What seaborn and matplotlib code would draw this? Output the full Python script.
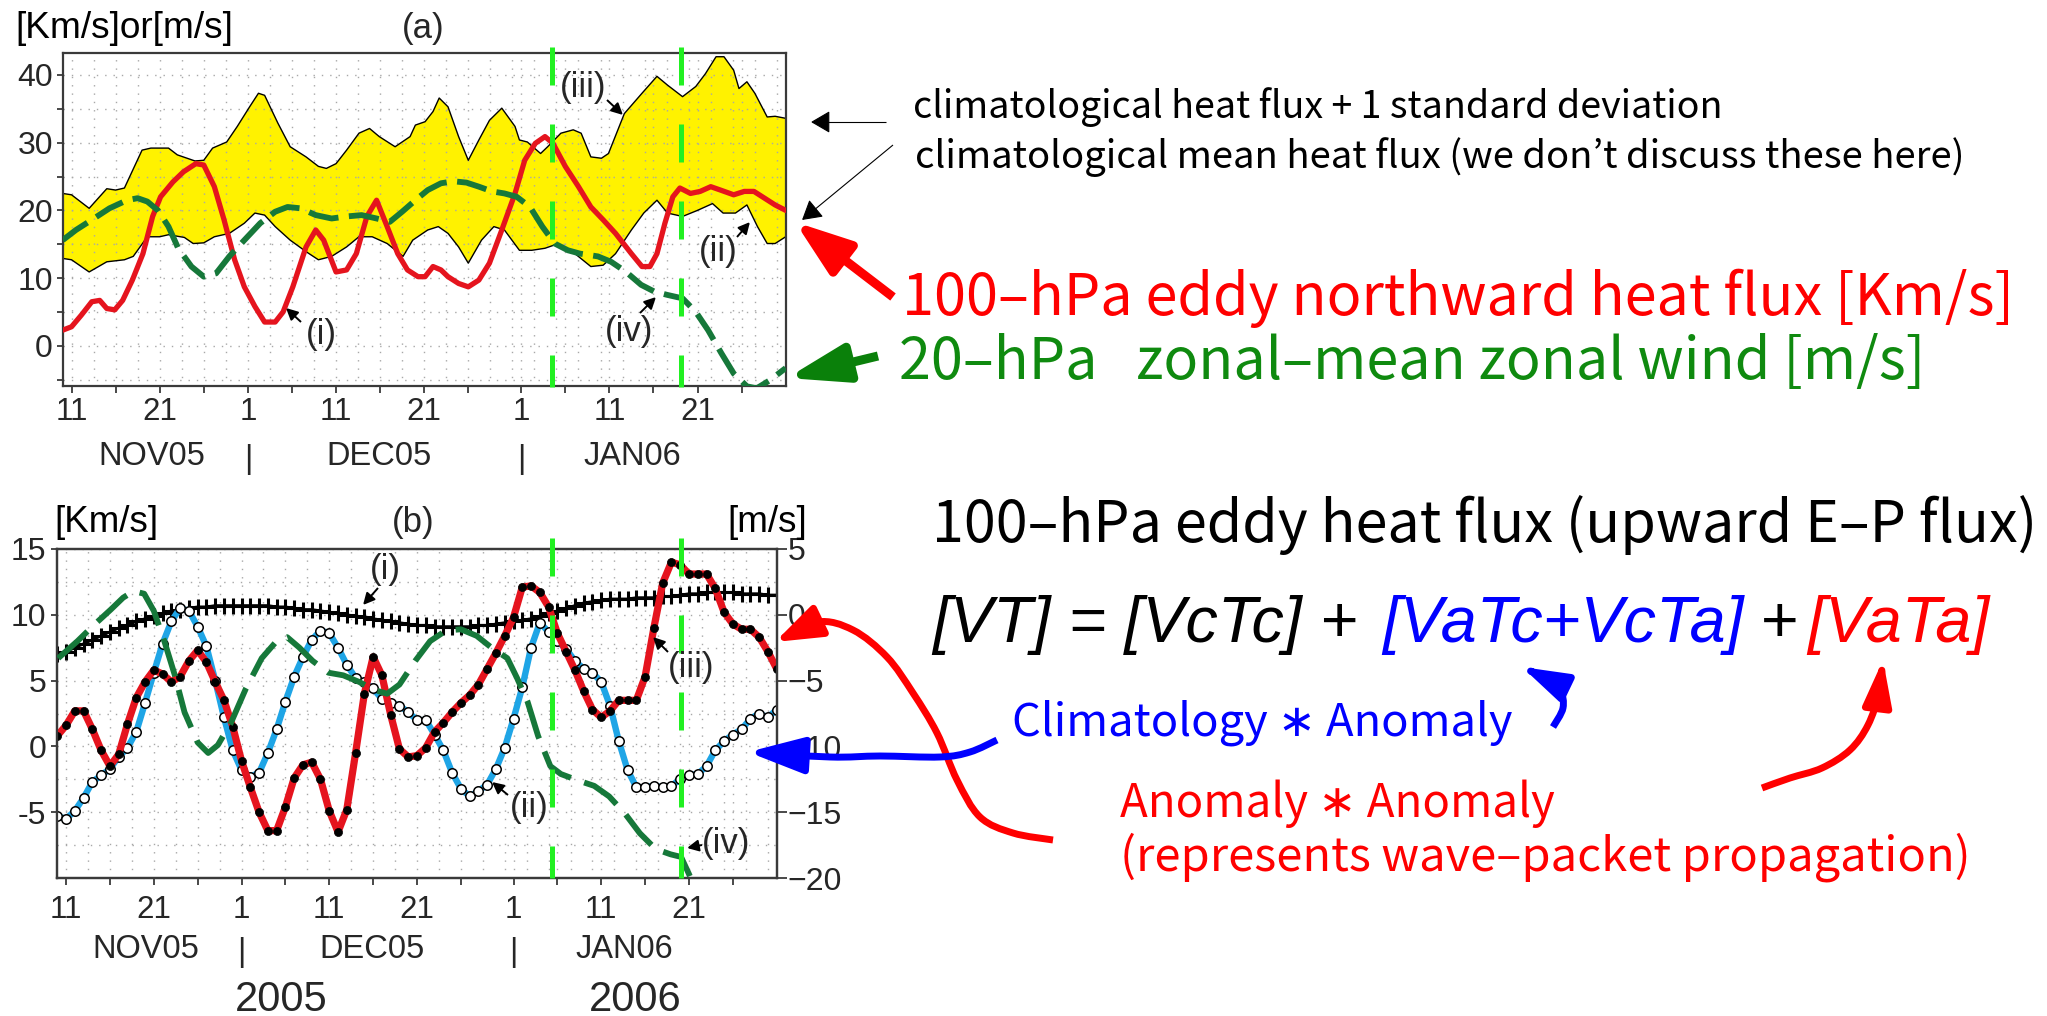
import numpy as np
import matplotlib
matplotlib.use("Agg")
import matplotlib.pyplot as plt
import matplotlib.transforms as mtransforms
import seaborn as sns
from matplotlib import font_manager
from matplotlib.lines import Line2D
from matplotlib.patches import FancyArrowPatch
from matplotlib.path import Path
from matplotlib.ticker import MultipleLocator

# Day numbers are counted from 1 Nov 2005 (11 Nov = 10, 1 Dec = 30, 1 Jan = 61, 31 Jan = 91)

# ---- panel (a): climatological band (mean and mean + 1 s.d.) of the 100-hPa heat flux [K m/s]
band_hi_day = np.array([9, 10, 12, 14, 15, 16, 18, 19, 21, 22, 24, 25, 26, 27.6, 28.8, 30.2, 31.2, 31.9, 33.4, 34.8,
                        36.6, 38, 38.9, 40, 41.2, 42.6, 43.8, 44.9, 46.7, 48.4, 49, 50.1, 51, 51.7, 52.7, 53.9, 55,
                        56.2, 57.4, 58.8, 60.3, 60.8, 61.7, 63.2, 64, 65.5, 66.9, 67.8, 68.9, 70.1, 70.9, 72.7,
                        74.7, 76.4, 77.6, 79.3, 80.8, 81.9, 83.1, 84, 85.1, 85.7, 86.6, 87.5, 88.9, 89.8, 91])
band_hi = np.array([22.5, 22.3, 20.3, 23.2, 23.0, 23.3, 28.9, 29.2, 29.2, 28.2, 27.3, 27.4, 29.2, 30.1, 32.4, 35.3,
                    37.3, 37.0, 32.9, 29.4, 27.9, 26.5, 26.2, 26.9, 28.9, 31.4, 32.1, 30.9, 29.4, 30.9, 32.6, 33.1,
                    34.6, 36.6, 35.3, 30.9, 27.4, 30.4, 33.3, 35.1, 32.4, 30.4, 30.1, 28.4, 29.4, 31.4, 31.9, 31.4,
                    27.9, 27.7, 28.4, 34.3, 37.3, 39.8, 38.5, 36.8, 38.3, 40.2, 42.7, 42.7, 40.7, 38.0, 39.0, 37.3,
                    33.8, 33.9, 33.6])
band_lo_day = np.array([9, 10, 12, 14, 16, 17, 18.6, 20, 21, 22.8, 23.8, 25, 26.2, 27.9, 29.6, 30.8, 31.9, 33.1, 34.8,
                        36.6, 38, 39.5, 41.2, 42.6, 44.1, 45.8, 47.6, 48.7, 50.4, 51.6, 52.7, 53.9, 55, 56.5, 57.9,
                        59.1, 60.8, 62.2, 63.7, 64.8, 66, 67.1, 68.9, 70.3, 71.7, 73.5, 74.9, 76.4, 77.6, 79.3, 81,
                        82.7, 83.9, 85.3, 86.6, 87.8, 88.9, 89.8, 91])
band_lo = np.array([12.9, 12.7, 10.9, 12.4, 12.7, 13.2, 16.1, 16.1, 16.4, 16.0, 15.1, 15.2, 16.1, 16.6, 18.1, 19.6,
                    19.3, 17.6, 15.6, 13.9, 12.7, 13.2, 14.6, 16.1, 16.1, 15.1, 13.2, 15.6, 17.1, 17.6, 16.6, 14.6,
                    12.2, 15.6, 17.6, 17.1, 14.1, 14.1, 14.4, 14.9, 14.4, 13.6, 11.7, 11.9, 13.6, 17.1, 19.6, 21.5,
                    19.6, 19.1, 20.0, 21.0, 19.6, 19.6, 20.8, 17.6, 15.1, 15.1, 16.1])

# ---- panel (a): 100-hPa eddy northward heat flux [K m/s]
flux_day = np.array([9, 10, 11.1, 12.3, 13.2, 14, 14.9, 15.8, 16.9, 18.1, 19.2, 20.1, 21.5, 22.7, 24.1, 25, 26.2,
                     27.3, 28.5, 29.6, 30.8, 31.9, 33.1, 34, 35.1, 36.6, 37.7, 38.6, 40, 41.2, 42.3, 43.5, 44.6,
                     45.8, 47, 48.1, 49.3, 50.1, 51, 51.9, 52.7, 53.9, 55, 56.2, 57.4, 58.8, 60.3, 61.4, 62.6, 63.7,
                     64.6, 66, 67.5, 68.9, 70.3, 71.7, 73.5, 74.7, 75.6, 76.4, 77.3, 78.2, 79, 80.2, 81.3, 82.5,
                     83.6, 85.1, 86.3, 87.4, 88.6, 89.8, 91])
flux_100 = np.array([2.3, 2.8, 4.5, 6.5, 6.7, 5.5, 5.3, 6.7, 9.7, 13.6, 19.1, 22.0, 24.2, 25.7, 26.9, 26.7, 23.5,
                     18.6, 12.7, 8.7, 5.8, 3.5, 3.5, 5.0, 8.7, 14.6, 17.1, 15.6, 10.9, 11.2, 13.6, 19.1, 21.5, 17.6,
                     13.6, 11.2, 10.2, 10.2, 11.7, 11.2, 10.2, 9.2, 8.7, 9.7, 12.2, 17.1, 22.5, 27.4, 29.9, 30.9,
                     29.9, 26.5, 23.5, 20.5, 18.6, 16.6, 13.6, 11.7, 11.7, 13.6, 18.1, 22.0, 23.3, 22.5, 22.8, 23.5,
                     23.0, 22.3, 22.8, 22.8, 21.8, 20.8, 20.0])

# ---- panel (a): 20-hPa zonal-mean zonal wind [m/s]
wind_day = np.array([9, 10.5, 12.3, 14.3, 16.3, 17.5, 18.6, 19.8, 21, 22.1, 23.6, 25, 26.4, 27.9, 29.6, 31.4, 33.1,
                     34.5, 36, 37.7, 39.5, 41.2, 42.9, 44.6, 46.1, 47.5, 49, 50.4, 51.9, 53.3, 54.8, 56.2, 57.7,
                     59.1, 60.5, 62, 63.4, 64.8, 66.3, 67.7, 69.7, 71.2, 72.9, 74.6, 76.1, 77.6, 79.3, 80.8, 82.2,
                     83.7, 85.1, 86.6, 87.7, 89.2, 91])
wind_20 = np.array([15.6, 17.1, 18.6, 20.3, 21.5, 21.8, 21.3, 20.0, 17.6, 14.4, 11.7, 10.2, 10.7, 13.2, 15.6, 18.1,
                    19.8, 20.5, 20.3, 19.3, 18.8, 19.1, 19.3, 18.8, 18.3, 19.8, 21.5, 23.0, 24.0, 24.3, 24.1, 23.5,
                    22.8, 22.5, 22.0, 20.5, 17.6, 15.1, 14.1, 13.6, 13.2, 12.4, 10.9, 9.0, 8.0, 7.5, 7.0, 5.0, 2.3,
                    -1.1, -4.1, -6.0, -6.3, -5.1, -3.3])

# ---- panel (b): daily decomposition of the 100-hPa eddy heat flux [K m/s]
days_b = np.arange(9, 92)
vt_clim = np.array([7.0, 7.2, 7.5, 7.8, 8.1, 8.4, 8.7, 9.0, 9.2, 9.5,
                    9.7, 9.9, 10.1, 10.3, 10.4, 10.5, 10.6, 10.6, 10.7, 10.7,
                    10.7, 10.7, 10.7, 10.7, 10.7, 10.6, 10.6, 10.5, 10.4, 10.4,
                    10.3, 10.2, 10.1, 10.0, 9.9, 9.8, 9.7, 9.6, 9.5, 9.4,
                    9.3, 9.2, 9.2, 9.1, 9.1, 9.1, 9.1, 9.1, 9.2, 9.2,
                    9.3, 9.4, 9.5, 9.6, 9.7, 9.9, 10.1, 10.3, 10.5, 10.7,
                    10.9, 11.0, 11.1, 11.2, 11.2, 11.2, 11.3, 11.3, 11.3, 11.4,
                    11.4, 11.5, 11.6, 11.6, 11.7, 11.7, 11.7, 11.7, 11.6, 11.6,
                    11.6, 11.5, 11.5])
vt_mixed = np.array([-5.3, -5.5, -4.9, -3.9, -2.7, -2.2, -1.7, -0.8, -0.1, 1.1,
                     3.3, 5.6, 7.8, 9.5, 10.5, 10.3, 9.1, 7.6, 5.0, 2.2,
                     -0.3, -1.8, -2.3, -2.0, -0.5, 1.3, 3.4, 5.3, 6.8, 8.1,
                     8.8, 8.6, 7.5, 6.2, 5.2, 4.9, 4.4, 3.6, 3.3, 3.1,
                     2.6, 2.0, 2.0, 0.9, -0.3, -2.0, -3.2, -3.8, -3.4, -2.9,
                     -1.7, -0.1, 2.1, 4.5, 7.5, 9.4, 8.7, 8.0, 7.4, 6.5,
                     5.9, 5.6, 4.9, 3.1, 0.4, -1.8, -3.1, -3.1, -3.0, -3.1,
                     -3.0, -2.5, -2.2, -2.1, -1.5, -0.3, 0.4, 0.9, 1.3, 2.1,
                     2.5, 2.2, 2.8])
vt_anom = np.array([0.8, 1.6, 2.7, 2.7, 1.3, -0.3, -1.5, -0.6, 1.7, 3.7,
                    4.9, 5.8, 5.5, 4.9, 5.3, 6.5, 7.3, 6.4, 4.9, 3.5,
                    1.5, -1.1, -3.1, -5.0, -6.4, -6.4, -4.6, -2.4, -1.4, -1.2,
                    -2.5, -4.9, -6.5, -4.8, -0.5, 4.0, 6.8, 5.4, 2.4, -0.2,
                    -0.8, -0.7, -0.1, 1.1, 1.8, 2.6, 3.3, 3.9, 4.7, 5.9,
                    7.1, 8.4, 9.8, 12.1, 12.2, 11.7, 10.6, 8.6, 7.2, 5.8,
                    4.2, 2.8, 2.2, 2.7, 3.5, 3.5, 3.5, 5.3, 9.0, 12.4,
                    14.0, 13.8, 13.1, 13.1, 13.1, 12.0, 10.2, 9.3, 8.9, 8.9,
                    8.3, 7.2, 5.9])

# ---- panel (b): 20-hPa zonal wind on the right-hand axis [m/s]
wind_b_day = np.array([9.1, 11.3, 13.3, 15.1, 16.5, 17.7, 18.9, 20.0, 21.2, 22.4, 23.5, 25.0, 26.2, 27.3, 28.8,
                       30.5, 32.3, 34.0, 35.2, 36.6, 38.1, 39.9, 41.6, 43.4, 45.1, 46.6, 48.0, 49.8, 51.5, 53.3,
                       55.0, 56.8, 58.5, 60.3, 61.4, 62.6, 63.8, 65.2, 66.4, 68.4, 70.2, 71.9, 73.7, 75.4, 77.2,
                       78.9, 80.1, 81.0, 81.5])
wind_b = np.array([-3.3, -2.0, -0.7, 0.4, 1.3, 1.8, 1.6, 0.3, -2.0, -4.6, -7.4, -9.7, -10.5, -9.9, -8.2, -5.6,
                   -3.3, -2.0, -1.7, -2.5, -3.5, -4.4, -4.6, -5.1, -5.7, -6.0, -5.3, -3.5, -2.0, -1.2, -1.1, -1.6,
                   -2.5, -3.3, -4.8, -6.6, -9.2, -11.5, -12.1, -12.6, -13.0, -13.8, -15.1, -16.6, -17.8, -18.2,
                   -18.4, -19.7, -20.5])

# ---- dates highlighted by the vertical guide lines
event_days = [64.5, 79.1]

# ---- axis tick labels
tick_days = [10, 15, 20, 25, 30, 35, 40, 45, 50, 55, 61, 66, 71, 76, 81, 86]
tick_text = ["11", "", "21", "", "1", "", "11", "", "21", "", "1", "", "11", "", "21", ""]
month_names = ["NOV05", "DEC05", "JAN06"]
month_centers = [19.1, 44.9, 73.6]
month_breaks = [30, 61]
year_names = ["2005", "2006"]
yticks_a = [-5, 0, 5, 10, 15, 20, 25, 30, 35, 40]
ylabels_a = ["", "0", "", "10", "", "20", "", "30", "", "40"]
yticks_b = [-5, 0, 5, 10, 15]
ylabels_b = ["-5", "0", "5", "10", "15"]
yticks_b2 = [-20, -15, -10, -5, 0, 5]
ylabels_b2 = ["\u221220", "\u221215", "\u221210", "\u22125", "0", "5"]

# ---------------------------------------------------------------- styling
W, H, DPI = 2047, 1016, 100
YELLOW = "#fff200"
LINE_RED = "#e5141e"
DK_GREEN = "#16783a"
SKY = "#1fa5e6"
LIME = "#22f022"
PURE_RED = "#ff0000"
PURE_BLUE = "#0000ff"
TXT_GREEN = "#0f8a0f"
FRAME = "#3a3a3a"

sns.set_theme(style="white")
installed = {f.name for f in font_manager.fontManager.ttflist}


def first_font(*names):
    for n in names:
        if n in installed:
            return n
    return "DejaVu Sans"


SANS = first_font("Liberation Sans", "Arial", "DejaVu Sans")
NARROW = first_font("Liberation Sans Narrow", "Liberation Sans", "DejaVu Sans")
GOTHIC = first_font("Noto Sans CJK JP", "Noto Sans", "DejaVu Sans")
HAVE_NARROW = NARROW == "Liberation Sans Narrow"
plt.rcParams["font.family"] = [SANS, "DejaVu Sans"]

fig = plt.figure(figsize=(W / DPI, H / DPI), dpi=DPI)
fig.patch.set_facecolor("white")
renderer = fig.canvas.get_renderer()


def rect(l, t, r, b):
    return [l / W, 1 - b / H, (r - l) / W, (b - t) / H]


def fx(x):
    return x / W


def fy(y):
    return 1 - y / H


def frame(ax):
    for sp in ax.spines.values():
        sp.set_visible(True)
        sp.set_color(FRAME)
        sp.set_linewidth(1.6)


XT_SIZE = 24 if HAVE_NARROW else 22.5
MONTH_SIZE = 26 if HAVE_NARROW else 23.5
ROMAN_SIZE = 28 if HAVE_NARROW else 25


def date_axis(ax, pad, month_base):
    ax.set_xlim(9, 91)
    ax.set_xticks(tick_days)
    ax.set_xticklabels(tick_text, fontsize=XT_SIZE, family=[NARROW, "DejaVu Sans"])
    ax.tick_params(axis="x", which="major", bottom=True, direction="out", length=5, width=1.3,
                   pad=pad, color=FRAME)
    ax.xaxis.set_minor_locator(MultipleLocator(2.5))
    ax.tick_params(axis="x", which="minor", bottom=False, length=0)
    ax.grid(True, which="both", axis="x", color="#a8a8a8", linestyle=(0, (1, 5)), linewidth=1.0)
    tr = mtransforms.blended_transform_factory(ax.transData, fig.transFigure)
    for name, c in zip(month_names, month_centers):
        ax.text(c, fy(month_base), name, transform=tr, ha="center", va="baseline",
                fontsize=MONTH_SIZE, family=[NARROW, "DejaVu Sans"])
    for b in month_breaks:
        ax.text(b, fy(month_base + 3), "|", transform=tr, ha="center", va="baseline",
                fontsize=MONTH_SIZE, family=[NARROW, "DejaVu Sans"])


# ================================================================ panel (a)
axA = fig.add_axes(rect(62.7, 53, 785.7, 386))
axA.fill(np.r_[band_hi_day, band_lo_day[::-1]], np.r_[band_hi, band_lo[::-1]],
         facecolor=YELLOW, edgecolor="none", zorder=1)
sns.lineplot(x=band_hi_day, y=band_hi, ax=axA, color="black", linewidth=1.0, errorbar=None, legend=False, zorder=2)
sns.lineplot(x=band_lo_day, y=band_lo, ax=axA, color="black", linewidth=1.0, errorbar=None, legend=False, zorder=2)
sns.lineplot(x=flux_day, y=flux_100, ax=axA, color=LINE_RED, linewidth=3.8, errorbar=None, legend=False, zorder=4)
sns.lineplot(x=wind_day, y=wind_20, ax=axA, color=DK_GREEN, linewidth=4.2, errorbar=None, legend=False,
             linestyle=(0, (5.2, 1.8)), zorder=5)
axA.set_ylim(-5.95, 43.25)
axA.set_yticks(yticks_a)
axA.set_yticklabels(ylabels_a, fontsize=23)
axA.tick_params(axis="y", left=True, direction="out", length=4, width=1.3, pad=3, color=FRAME)
axA.grid(True, which="major", axis="y", color="#a8a8a8", linestyle=(0, (1, 5)), linewidth=1.0)
date_axis(axA, pad=3.0, month_base=465)
axA.set_axisbelow("line")
axA.set_xlabel("")
axA.set_ylabel("")
frame(axA)

# ================================================================ panel (b)
axB = fig.add_axes(rect(57.3, 549, 776.7, 878))
sns.lineplot(x=days_b, y=vt_clim, ax=axB, color="black", linewidth=2.0, marker="+", markersize=11,
             markeredgewidth=2.2, markeredgecolor="black", errorbar=None, legend=False, zorder=3)
sns.lineplot(x=days_b, y=vt_mixed, ax=axB, color=SKY, linewidth=4.6, marker="o", markersize=6.8,
             markerfacecolor="white", markeredgecolor="black", markeredgewidth=1.1, errorbar=None,
             legend=False, zorder=4)
sns.lineplot(x=days_b, y=vt_anom, ax=axB, color=LINE_RED, linewidth=5.2, marker="o", markersize=5.8,
             markerfacecolor="black", markeredgecolor="black", markeredgewidth=0.5, errorbar=None,
             legend=False, zorder=5)
axB.set_ylim(-10, 15)
axB.set_yticks(yticks_b)
axB.set_yticklabels(ylabels_b, fontsize=23)
axB.tick_params(axis="y", left=True, direction="out", length=4, width=1.3, pad=4, color=FRAME)
axB.yaxis.set_minor_locator(MultipleLocator(2.5))
axB.tick_params(axis="y", which="minor", left=False, length=0)
axB.grid(True, which="both", axis="y", color="#a8a8a8", linestyle=(0, (1, 5)), linewidth=1.0)
date_axis(axB, pad=7, month_base=958)
axB.set_axisbelow("line")
axB.set_xlabel("")
axB.set_ylabel("")

axB2 = axB.twinx()
sns.lineplot(x=wind_b_day, y=wind_b, ax=axB2, color=DK_GREEN, linewidth=4.2, errorbar=None, legend=False,
             linestyle=(0, (6.8, 2.4)), zorder=6)
axB2.set_ylim(-20, 5)
axB2.set_yticks(yticks_b2)
axB2.set_yticklabels(ylabels_b2, fontsize=23)
axB2.tick_params(axis="y", right=True, direction="out", length=7, width=1.3, pad=1, color=FRAME)
axB2.grid(False)
axB2.set_xlabel("")
axB2.set_ylabel("")
axB.set_xlim(9, 91)
frame(axB)
frame(axB2)

# ---- vertical guide lines through both panels
for d in event_days:
    gx = axA.transData.transform((d, 0))[0] / W
    for top, bot in [(47, 387), (538, 878)]:
        fig.add_artist(Line2D([gx, gx], [fy(top), fy(bot)], transform=fig.transFigure, color=LIME,
                              linewidth=3.6, linestyle=(0, (7.6, 7.8)), zorder=20))


# ================================================================ text helpers
def fitted_text(s, x0, base, x1, color="black", family=GOTHIC, style="normal", zorder=30):
    t = fig.text(fx(x0), fy(base), s, ha="left", va="baseline", color=color, fontsize=30,
                 family=[family, "DejaVu Sans"], fontstyle=style, zorder=zorder)
    w = t.get_window_extent(renderer).width
    t.set_fontsize(30 * (x1 - x0) / w)
    return t


def smooth_path(points):
    p = np.array([(fx(x), fy(y)) for x, y in points])
    if len(p) < 3:
        return Path(p, [Path.MOVETO] + [Path.LINETO] * (len(p) - 1))
    ext = np.vstack([p[0], p, p[-1]])
    verts = [p[0]]
    codes = [Path.MOVETO]
    for i in range(1, len(ext) - 2):
        c1 = ext[i] + (ext[i + 1] - ext[i - 1]) / 6.0
        c2 = ext[i + 1] - (ext[i + 2] - ext[i]) / 6.0
        verts += [c1, c2, ext[i + 1]]
        codes += [Path.CURVE4] * 3
    return Path(np.array(verts), codes)


def arrow(points, color, lw, hl, hw, zorder=25):
    patch = FancyArrowPatch(path=smooth_path(points), transform=fig.transFigure,
                            arrowstyle=f"-|>,head_length={hl},head_width={hw}", color=color,
                            linewidth=lw, mutation_scale=1, shrinkA=0, shrinkB=0, zorder=zorder,
                            joinstyle="round", capstyle="butt")
    fig.add_artist(patch)


# ---- panel headers
fitted_text("[Km/s]or[m/s]", 15, 38, 233, family=SANS)
fig.text(fx(423), fy(38), "(a)", ha="center", va="baseline", fontsize=25)
fitted_text("[Km/s]", 54, 532, 158, family=SANS)
fig.text(fx(413), fy(532), "(b)", ha="center", va="baseline", fontsize=25)
fitted_text("[m/s]", 727, 532, 807, family=SANS)
for name, xc in zip(year_names, [281, 635]):
    fig.text(fx(xc), fy(1011), name, ha="center", va="baseline", fontsize=30)

# ---- curve labels with small pointers
roman = [("(i)", 321, 334, (301, 322), (286, 308)),
         ("(iii)", 583, 87, (607, 100), (623, 115)),
         ("(ii)", 718, 252, (737, 237), (750, 222)),
         ("(iv)", 629, 332, (640, 313), (656, 297)),
         ("(i)", 385, 570, (378, 588), (363, 605)),
         ("(ii)", 529, 808, (508, 795), (492, 782)),
         ("(iii)", 691, 668, (668, 652), (653, 637)),
         ("(iv)", 726, 843, (702, 845), (687, 848))]
for s, xc, yc, p0, p1 in roman:
    fig.text(fx(xc), fy(yc), s, ha="center", va="center", fontsize=ROMAN_SIZE,
             family=[NARROW, "DejaVu Sans"], zorder=30)
    arrow([p0, p1], "black", 1.4, 7, 3.5, zorder=30)

# ---- explanatory text, right of panel (a)
fitted_text("climatological heat flux + 1 standard deviation", 913, 118, 1722)
fitted_text("climatological mean heat flux (we don\u2019t discuss these here)", 915, 168, 1965)
fitted_text("100\u2013hPa eddy northward heat flux [Km/s]", 902, 315, 2015, color=PURE_RED)
fitted_text("20\u2013hPa   zonal\u2013mean zonal wind [m/s]", 899, 379, 1926, color=TXT_GREEN)
arrow([(886, 122), (811, 122)], "black", 0.8, 12, 7)
arrow([(893, 145), (802, 220)], "black", 0.8, 12, 7)
arrow([(893, 297), (795, 222)], PURE_RED, 6.5, 34, 12)
arrow([(878, 356), (787, 378)], "#0a800a", 6.5, 36, 11.5)

# ---- explanatory text, right of panel (b)
fitted_text("100\u2013hPa eddy heat flux (upward E\u2013P flux)", 932, 542, 2038)
formula = [("[VT] = [VcTc] +", "black", 932), ("[VaTc+VcTa]", PURE_BLUE, 1382),
           ("+", "black", 1760), ("[VaTa]", PURE_RED, 1807)]
probe = fitted_text("[VT] = [VcTc] + [VaTc+VcTa] + [VaTa]", 932, 642, 1992, family=SANS, style="italic")
fsize = probe.get_fontsize()
probe.remove()
for s, c, x0 in formula:
    fig.text(fx(x0), fy(642), s, ha="left", va="baseline", color=c, fontsize=fsize,
             family=[SANS, "DejaVu Sans"], fontstyle="italic", zorder=30)
fitted_text("Climatology \u2217 Anomaly", 1012, 735, 1513, color=PURE_BLUE)
fitted_text("Anomaly \u2217 Anomaly", 1120, 817, 1555, color=PURE_RED)
fitted_text("(represents wave\u2013packet propagation)", 1120, 870, 1970, color=PURE_RED)

arrow([(1053, 840), (1013, 833), (980, 817), (957, 780), (937, 733), (913, 693), (887, 657), (853, 630),
       (817, 622), (775, 642)], PURE_RED, 5.0, 28, 10)
arrow([(997, 740), (970, 752), (940, 757), (880, 756), (830, 757), (748, 752)], PURE_BLUE, 5.0, 34, 11)
arrow([(1553, 727), (1563, 708), (1560, 690), (1545, 678), (1522, 667)], PURE_BLUE, 5.0, 27, 8.5)
arrow([(1762, 788), (1790, 778), (1822, 768), (1850, 750), (1868, 725), (1879, 693), (1883, 660)],
      PURE_RED, 5.0, 27, 8.5)

fig.savefig("out.png", dpi=DPI, facecolor="white")
